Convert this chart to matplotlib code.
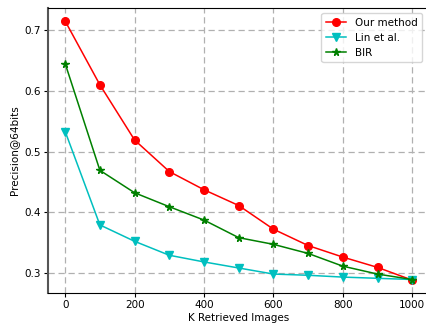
import matplotlib.pyplot as plt
import numpy as np

# Precision@64bits frente a K imágenes recuperadas
k = [0, 100, 200, 300, 400, 500, 600, 700, 800, 900, 1000]
ours = [0.715, 0.610, 0.519, 0.467, 0.437, 0.411, 0.372, 0.345, 0.326, 0.309, 0.288]
lin = [0.533, 0.379, 0.352, 0.329, 0.318, 0.308, 0.298, 0.296, 0.293, 0.291, 0.289]
bir = [0.645, 0.469, 0.432, 0.409, 0.387, 0.358, 0.347, 0.332, 0.311, 0.298, 0.289]

xlabel = "K Retrieved Images"
ylabel = "Precision@64bits"
xticks = [0, 200, 400, 600, 800, 1000]
yticks = [0.3, 0.4, 0.5, 0.6, 0.7]

plt.rcParams['font.size'] = 7.5

fig = plt.figure(figsize=(4.27, 3.26), dpi=100)
ax = fig.add_axes([0.112, 0.101, 0.894, 0.874])
ax.plot(k, ours, color="red", marker="o", markersize=5.5, linewidth=1.1, label="Our method")
ax.plot(k, lin, color="c", marker="v", markersize=5.5, linewidth=1.1, label="Lin et al.")
ax.plot(k, bir, color="green", marker="*", markersize=5.5, linewidth=1.1, label="BIR")
ax.set_xlabel(xlabel, labelpad=2)
ax.set_ylabel(ylabel, labelpad=4)
ax.set_xticks(xticks)
ax.set_yticks(yticks)
ax.grid(color="#b0b0b0", linestyle=(0, (5, 3)), linewidth=0.9)
ax.tick_params(length=3, pad=2)
ax.spines["left"].set_color("#555555")
ax.spines["left"].set_linewidth(1.5)
ax.spines["right"].set_visible(False)
ax.legend(loc="upper right", bbox_to_anchor=(0.993, 1.0), fontsize=7.5)
fig.savefig("out.png", dpi=100)
